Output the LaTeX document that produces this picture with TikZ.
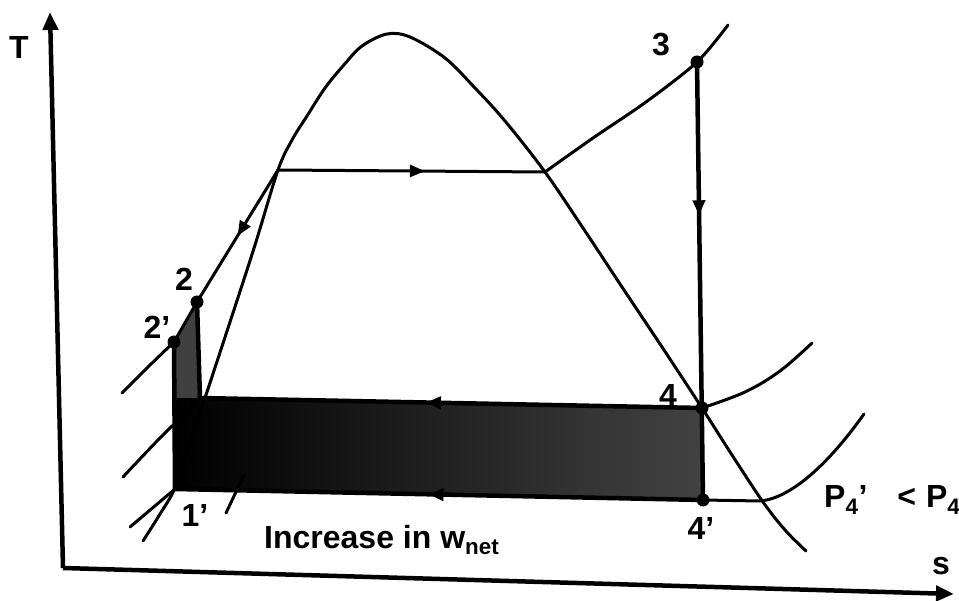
\documentclass[tikz,border=0pt]{standalone}
\usepackage{fontspec}
\setmainfont{Liberation Sans}
\usetikzlibrary{arrows.meta,decorations.markings}
\begin{document}
\begin{tikzpicture}[x=1pt,y=-1pt,
  curve/.style={line width=3pt, line cap=round},
  cyc/.style={line width=4.5pt},
  axisline/.style={line width=4.5pt},
  lbl/.style={font=\fontsize{32}{34}\selectfont\bfseries, inner sep=0pt},
  dot/.style={circle, fill=black, minimum size=13pt, inner sep=0pt},
  midarr/.style={postaction={decorate,decoration={markings,mark=at position #1 with {\arrow{Triangle[length=15pt,width=12pt]}}}}}
]
\useasboundingbox (0,0) rectangle (959,601);
% key points
\coordinate (O) at (63,568);
\coordinate (Ttop) at (50,12);
\coordinate (Send) at (954,594);
\coordinate (p1p) at (175,489);
\coordinate (p1) at (200,398);
\coordinate (p2) at (197,302);
\coordinate (p2p) at (174,342);
\coordinate (p3) at (697,62);
\coordinate (p4) at (702,408);
\coordinate (p4p) at (703,500);
\coordinate (fsat) at (278,170);
\coordinate (gsat) at (545,172);

% shaded areas
\shade[left color=black, middle color=black!96, right color=black!74] (p1p) -- (p2p) -- (p2) -- (p1) -- (p4) -- (p4p) -- cycle;
\fill[black!75] (p2p) -- (p2) -- (p1) -- (175,398) -- cycle;

% axes
\draw[axisline, -{Triangle[length=18pt,width=15pt]}] (O) -- (Ttop);
\draw[axisline, -{Triangle[length=18pt,width=15pt]}] (O) -- (Send);

% saturation dome
\draw[curve] plot[smooth, tension=0.55] coordinates {(143,541) (160,514) (175,488) (190,443) (205,398) (230,322) (255,245) (278,170) (292,140) (307,116) (325,88) (343,66) (362,46) (387,34) (410,37) (445,58) (475,88) (505,121) (545,172) (583,228) (622,287) (662,347) (702,408) (732,455) (763,502) (785,530) (806,551)};

% high pressure isobar (liquid part and superheated part)
\draw[curve] plot[smooth, tension=0.5] coordinates {(122,393) (148,367) (174,342)};
\draw[curve, midarr=0.5] (fsat) -- (p2);
\draw[curve] (p2) -- (p2p);
\draw[curve] plot[smooth, tension=0.5] coordinates {(545,172) (593,138) (646,102) (697,62) (728,25)};
\draw[curve, midarr=0.55] (fsat) -- (gsat);

% low pressure isobar P4
\draw[curve] plot[smooth, tension=0.5] coordinates {(123,477) (160,438) (200,399)};
\draw[curve] plot[smooth, tension=0.6] coordinates {(702,408) (745,392) (780,371) (812,343)};

% lower isobar P4'
\draw[curve] (130,527) -- (p1p);
\draw[curve] (p4p) -- (760,501) .. controls (795,498) and (835,455) .. (864,414);
\draw[curve] (226,513) -- (244,475);

% cycle edges
\draw[cyc, midarr=0.35] (p3) -- (p4p);
\draw[cyc, midarr=0.55] (p4) -- (p1);
\draw[cyc, midarr=0.52] (p4p) -- (p1p);
\draw[cyc] (p2) -- (p1);
\draw[cyc] (p2p) -- (p1p);

% dots
\node[dot] (d3) at (p3) {};
\node[dot] (d2) at (p2) {};
\node[dot] (d2p) at (p2p) {};
\node[dot] (d4) at (p4) {};
\node[dot] (d4p) at (p4p) {};

% labels
\node[lbl] (lT) at (19,47) {T};
\node[lbl] (ls) at (941,566) {s};
\node[lbl] (l3) at (661,45) {3};
\node[lbl] (l2) at (184,279) {2};
\node[lbl] (l2p) at (157,327) {2'};
\node[lbl] (l4) at (668,395) {4};
\node[lbl] (l1p) at (195,515) {1'};
\node[lbl] (l4p) at (701,528) {4'};
\node[lbl, anchor=west] (lP) at (824,500) {P\textsubscript{4}'\hspace{30pt}<\hspace{10pt}P\textsubscript{4}};
\node[lbl, anchor=west] (linc) at (264,540) {Increase in w\textsubscript{net}};
\end{tikzpicture}
\end{document}
